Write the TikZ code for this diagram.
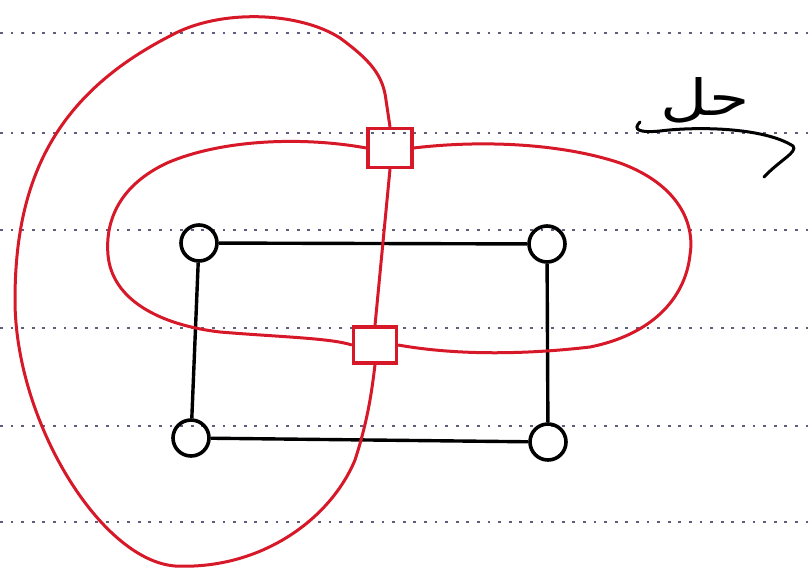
\documentclass[tikz,border=0pt]{standalone}
\usepackage{fontspec}
\newfontfamily\arabicfont[Script=Arabic]{DejaVu Sans}
\TeXXeTstate=1
\definecolor{penred}{RGB}{214,24,40}
\definecolor{rule}{RGB}{95,95,125}
\begin{document}
\begin{tikzpicture}[x=1pt,y=-1pt,
  vertex/.style={circle,draw=black,line width=3.6pt,minimum size=36pt,inner sep=0pt},
  dualv/.style={rectangle,draw=penred,line width=3.2pt,inner sep=0pt},
  edge/.style={black,line width=3.4pt},
  dualedge/.style={penred,line width=3pt},
  ruling/.style={rule,line width=2.6pt,dash pattern=on 2.8pt off 7.8pt}]
\useasboundingbox (0,0) rectangle (809,576);
% notebook ruling
\foreach \yy in {33,133,230,328,426,522}
  \draw[ruling] (0,\yy) -- (809,\yy);

% primal graph: a four-cycle
\node[vertex] (a) at (199,243) {};
\node[vertex] (b) at (547,244) {};
\node[vertex] (c) at (191,438) {};
\node[vertex] (d) at (548,442) {};
\draw[edge] (a) -- (b);
\draw[edge] (b) -- (d);
\draw[edge] (d) -- (c);
\draw[edge] (c) -- (a);

% dual vertices: outer face and inner face
\node[dualv,minimum width=44pt,minimum height=39pt] (o) at (390,148) {};
\node[dualv,minimum width=43pt,minimum height=36pt] (i) at (375,345) {};

% dual edges
\draw[dualedge] (o.south) -- (i.north);
\draw[dualedge] (o.east) .. controls (480,140) and (560,143) .. (620,163)
  .. controls (680,185) and (695,225) .. (690,255)
  .. controls (685,300) and (650,335) .. (590,347)
  .. controls (530,354) and (460,356) .. (i.east);
\draw[dualedge] (o.west) .. controls (300,136) and (220,140) .. (167,163)
  .. controls (120,185) and (105,220) .. (108,255)
  .. controls (112,300) and (160,325) .. (220,332)
  .. controls (280,337) and (330,338) .. (i.west);
\draw[dualedge] (o.north) -- (386,100)
  .. controls (383,75) and (370,60) .. (340,38)
  .. controls (300,12) and (220,8) .. (170,36)
  .. controls (55,95) and (15,180) .. (15,300)
  .. controls (15,420) and (100,560) .. (175,566)
  .. controls (260,570) and (330,520) .. (355,460)
  .. controls (368,420) and (372,390) .. (i.south);

% heading, underlined with a hooked stroke
\node[font=\arabicfont\fontsize{50}{60}\selectfont,inner sep=0pt,xscale=1.3] (hd) at (705,100) {\beginR حل\endR};
\draw[black,line width=3pt,line cap=round]
  (640,122) .. controls (632,130) and (640,133) .. (660,131)
  .. controls (700,126) and (765,128) .. (793,146)
  .. controls (798,152) and (780,160) .. (764,177);
\end{tikzpicture}
\end{document}
